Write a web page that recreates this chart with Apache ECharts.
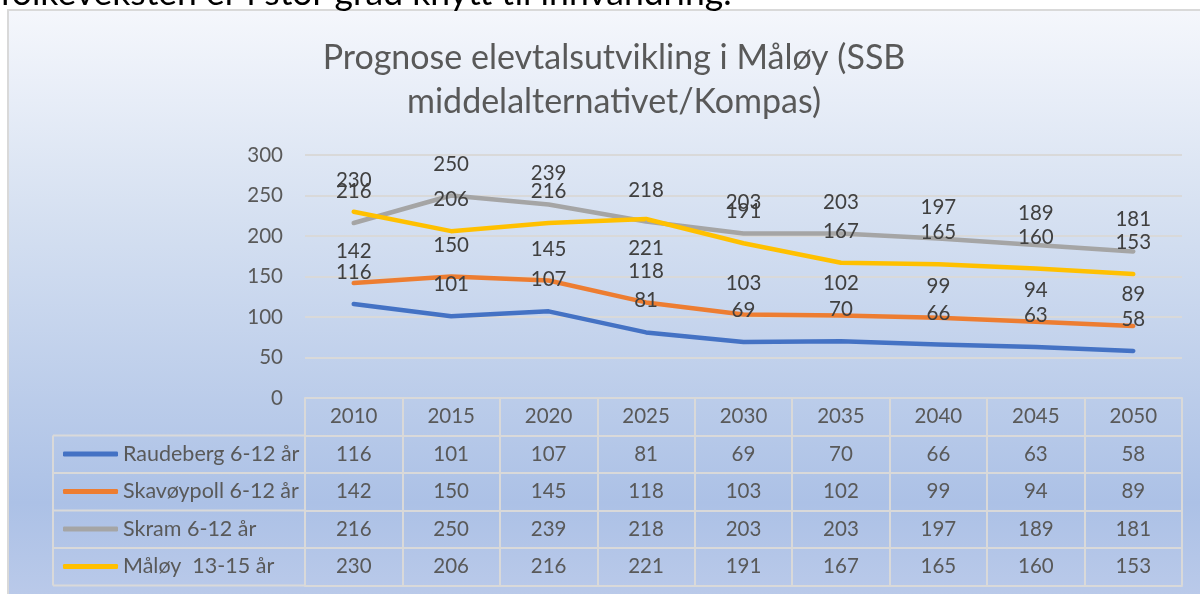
<!DOCTYPE html>
<html>
<head>
<meta charset="utf-8">
<style>
html, body { margin: 0; padding: 0; background: #fff; }
#main { width: 1200px; height: 594px; }
</style>
<script src="https://cdn.jsdelivr.net/npm/echarts@6/dist/echarts.min.js"></script>
</head>
<body>
<div id="main"></div>
<script>
// data
var years = ['2010', '2015', '2020', '2025', '2030', '2035', '2040', '2045', '2050']
var raudeberg = [116, 101, 107, 81, 69, 70, 66, 63, 58]
var skavoypoll = [142, 150, 145, 118, 103, 102, 99, 94, 89]
var skram = [216, 250, 239, 218, 203, 203, 197, 189, 181]
var maloy = [230, 206, 216, 221, 191, 167, 165, 160, 153]
var seriesNames = ['Raudeberg 6-12 år', 'Skavøypoll 6-12 år', 'Skram 6-12 år', 'Måløy  13-15 år']
var seriesColors = ['#4472c4', '#ed7d31', '#a5a5a5', '#ffc000']
var yTicks = { min: 0, max: 300, interval: 50 }

var FONT = 'Lato'
var TXT = '#595959'
var LINE = '#d9d9d9'
var NUM = 20.5
var rowH = 37.5

var chart = echarts.init(document.getElementById('main'))

function tableAxis(idx, values) {
    // one row of the data table under the plot
    return {
        type: 'category',
        data: years,
        position: 'bottom',
        offset: rowH * idx,
        boundaryGap: true,
        axisLine: { show: true, lineStyle: { color: LINE, width: 2 } },
        axisTick: { show: values !== null, length: rowH, interval: 0, lineStyle: { color: LINE, width: 2 } },
        axisLabel: {
            show: values !== null,
            interval: 0,
            margin: 8,
            color: TXT,
            fontFamily: FONT,
            fontSize: NUM,
            formatter: function (v, i) { return values ? values[i] : '' }
        },
        splitLine: { show: false }
    }
}

var allData = [raudeberg, skavoypoll, skram, maloy]

var xAxes = [tableAxis(0, years)]
for (var k = 0; k < allData.length; k++) {
    xAxes.push(tableAxis(k + 1, allData[k]))
}
xAxes.push(tableAxis(5, null))

var series = []
for (var s = 0; s < allData.length; s++) {
    series.push({
        name: seriesNames[s],
        type: 'line',
        xAxisIndex: 0,
        data: allData[s],
        symbol: 'circle',
        symbolSize: 2,
        showSymbol: true,
        lineStyle: { width: 4.5, color: seriesColors[s], cap: 'round', join: 'round' },
        itemStyle: { color: seriesColors[s] },
        label: {
            show: true,
            position: 'top',
            distance: 20,
            color: '#404040',
            fontFamily: FONT,
            fontSize: NUM
        },
        labelLayout: { hideOverlap: false },
        emphasis: { disabled: true }
    })
}
// Excel put the 2025 Måløy label under its point
series[3].data = maloy.map(function (v, i) {
    if (i === 3) return { value: v, label: { position: 'bottom', distance: 18 } }
    return v
})

var tableLines = []
var legendLeft = 53, tableLeft = 305, tableTop = 398
for (var r = 1; r <= 5; r++) {
    tableLines.push({
        type: 'line',
        shape: { x1: legendLeft, y1: tableTop + rowH * r, x2: tableLeft, y2: tableTop + rowH * r },
        style: { stroke: LINE, lineWidth: 2 }
    })
}
tableLines.push({
    type: 'line',
    shape: { x1: legendLeft, y1: tableTop + rowH, x2: legendLeft, y2: tableTop + rowH * 5 },
    style: { stroke: LINE, lineWidth: 2 }
})

var option = {
    backgroundColor: '#fff',
    animation: false,
    title: {
        text: 'Prognose elevtalsutvikling i Måløy (SSB\nmiddelalternativet/Kompas)',
        left: 609,
        textAlign: 'center',
        top: 31,
        textStyle: { color: TXT, fontFamily: FONT, fontSize: 34, fontWeight: 'normal', lineHeight: 44 }
    },
    legend: {
        orient: 'vertical',
        left: 58,
        top: 438,
        itemGap: 15.5,
        itemWidth: 55,
        itemHeight: 5,
        icon: 'roundRect',
        textStyle: { color: TXT, fontFamily: FONT, fontSize: 21.5, lineHeight: 22 },
        data: seriesNames,
        selectedMode: false
    },
    grid: { left: 305, right: 18, top: 155, bottom: 196, containLabel: false },
    xAxis: xAxes,
    yAxis: {
        type: 'value',
        min: yTicks.min,
        max: yTicks.max,
        interval: yTicks.interval,
        axisLine: { show: false },
        axisTick: { show: false },
        axisLabel: { color: TXT, fontFamily: FONT, fontSize: NUM, margin: 22 },
        splitLine: { lineStyle: { color: LINE, width: 2 } }
    },
    graphic: [
        {
            type: 'rect',
            z: -10,
            silent: true,
            shape: { x: 8, y: 10, width: 1210, height: 600 },
            style: {
                fill: new echarts.graphic.LinearGradient(0, 0, 0, 1, [
                    { offset: 0, color: '#f5f7fc' },
                    { offset: 0.35, color: '#d5e0f1' },
                    { offset: 0.82, color: '#acc1e6' },
                    { offset: 1, color: '#bccbea' }
                ]),
                stroke: '#d9d9d9',
                lineWidth: 2
            }
        },
        {
            type: 'text',
            left: 0,
            top: -24,
            z: 10,
            style: { text: 'folkeveksten er i stor grad knytt til innvandring.', fill: '#000', font: '35.5px Lato' }
        }
    ].concat(tableLines),
    series: series
}

chart.setOption(option)
</script>
</body>
</html>
